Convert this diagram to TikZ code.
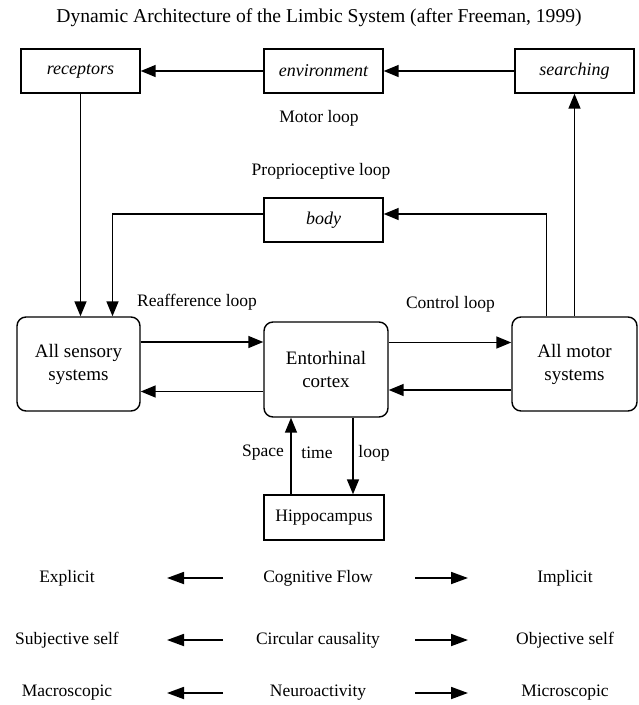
\documentclass[tikz,border=0pt]{standalone}
\usepackage{fontspec}
\setmainfont{Liberation Serif}
\usepackage{tikz}
\usetikzlibrary{arrows.meta,positioning}
\tikzset{
  ar/.style={-{Triangle[length=15pt,width=12pt]},line width=1.5pt},
  bar/.style={-{Triangle[length=17pt,width=12pt]},line width=1.8pt},
  box/.style={draw,line width=1.4pt,minimum width=119pt,minimum height=44pt,inner sep=0pt,font=\fontsize{18}{21}\selectfont\itshape},
  rbox/.style={draw,line width=1.4pt,rounded corners=9pt,minimum width=124pt,minimum height=95pt,align=center,inner sep=0pt,font=\fontsize{19}{23}\selectfont},
  lbl/.style={inner sep=0pt,font=\fontsize{17.5}{21}\selectfont}
}

\begin{document}
\begin{tikzpicture}[x=1pt,y=-1pt]
\useasboundingbox (0,0) rectangle (638,705);
\node[lbl,font=\fontsize{19.6}{23}\selectfont] (ttl) at (319,18) {Dynamic Architecture of the Limbic System (after Freeman, 1999)};
% outer loop boxes
\node[box] (rec) at (80.5,71) {receptors};
\node[box] (env) at (323.5,71) {environment};
\node[box] (srch) at (574.5,71) {searching};
\node[box] (body) at (323.5,220) {body};
% main systems
\node[rbox,minimum width=123pt,minimum height=94pt] (sens) at (78.5,364) {All sensory\\systems};
\node[rbox] (ent) at (326,369.5) {Entorhinal\\cortex};
\node[rbox,minimum width=125pt,minimum height=94pt] (mot) at (574.5,364) {All motor\\systems};
\node[box,font=\fontsize{17.5}{21}\selectfont,minimum width=120pt,minimum height=45pt] (hip) at (324,517.5) {Hippocampus};
% loop labels
\node[lbl] (mloop) at (319,118) {Motor loop};
\node[lbl] (ploop) at (321,171) {Proprioceptive loop};
\node[lbl,anchor=west] (rloop) at (137,302) {Reafference loop};
\node[lbl] (cloop) at (450.5,304) {Control loop};
\node[lbl] (spc) at (263,453) {Space};
\node[lbl] (tim) at (317,453) {time};
\node[lbl] (lp) at (374,453) {loop};
% connectors
\draw[ar] (srch.west) -- (env.east);
\draw[ar] (env.west) -- (rec.east);
\draw[ar] (rec.south) -- (rec.south |- sens.north);
\draw[ar] ([yshift=6pt]body.west) -| ([xshift=34pt]sens.north);
\draw[ar] ([xshift=-28pt]mot.north) |- ([yshift=6pt]body.east);
\draw[ar] (mot.north) -- (srch.south);
\draw[ar] ([yshift=22pt]sens.east) -- ([yshift=22pt]sens.east -| ent.west);
\draw[ar] ([yshift=-22pt]ent.west) -- ([yshift=-22pt]ent.west -| sens.east);
\draw[ar] ([yshift=27pt]ent.east) -- ([yshift=27pt]ent.east -| mot.west);
\draw[ar] ([yshift=-26pt]mot.west) -- ([yshift=-26pt]mot.west -| ent.east);
\draw[ar] ([xshift=-33pt]hip.north) -- ([xshift=-33pt]hip.north |- ent.south);
\draw[ar] ([xshift=29pt]hip.north |- ent.south) -- ([xshift=29pt]hip.north);
% flow rows
\foreach \yy/\lt/\mt/\rt in {578/Explicit/Cognitive Flow/Implicit,640/Subjective self/Circular causality/Objective self,693/Macroscopic/Neuroactivity/Microscopic}{
  \node[lbl] (l\yy) at (67,\yy) {\lt};
  \node[lbl] (m\yy) at (318,\yy) {\mt};
  \node[lbl] (r\yy) at (565,\yy) {\rt};
  \coordinate (la\yy) at (223,\yy);
  \coordinate (lb\yy) at (167,\yy);
  \coordinate (ra\yy) at (415,\yy);
  \coordinate (rb\yy) at (468,\yy);
  \draw[bar] (la\yy) -- (lb\yy);
  \draw[bar] (ra\yy) -- (rb\yy);}
\end{tikzpicture}
\end{document}
